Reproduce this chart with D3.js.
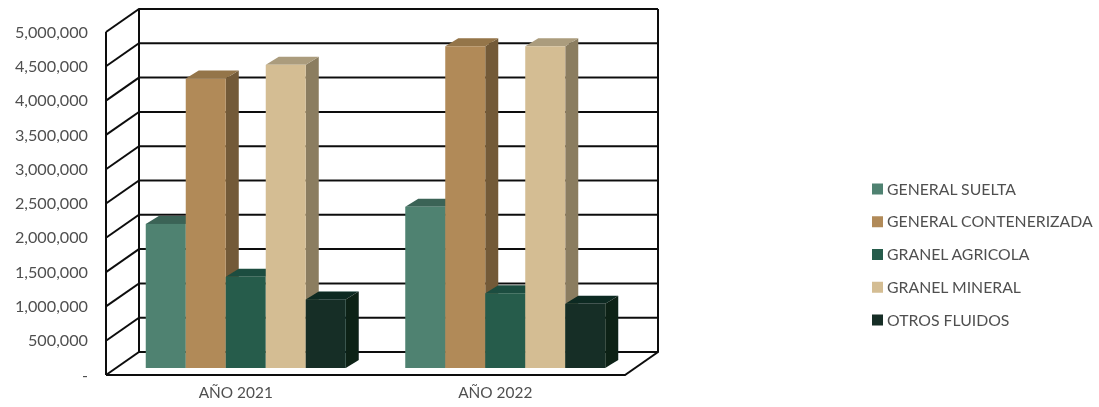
<!DOCTYPE html>
<html>
<head>
<meta charset="utf-8">
<script src="https://cdn.jsdelivr.net/npm/d3@7"></script>
<style>
  html, body { margin: 0; padding: 0; background: #fff; }
  svg { display: block; }
  text { font-family: Lato, "Open Sans", sans-serif; fill: #505050; }
</style>
</head>
<body>
<div id="chart"></div>
<script>
var categories = ["AÑO 2021", "AÑO 2022"];
var seriesNames = ["GENERAL SUELTA", "GENERAL CONTENERIZADA", "GRANEL AGRICOLA", "GRANEL MINERAL", "OTROS FLUIDOS"];
var values2021 = [2100000, 4220000, 1330000, 4420000, 1000000];
var values2022 = [2350000, 4690000, 1090000, 4690000, 935000];
var yTicks = [0, 500000, 1000000, 1500000, 2000000, 2500000, 3000000, 3500000, 4000000, 4500000, 5000000];

var frontColors = ["#4f8271", "#b18a58", "#265c4b", "#d4bd93", "#132f27"];
var topColors = ["#3b6357", "#947448", "#1f4d3f", "#ab9c7d", "#0c2a20"];
var sideColors = ["#3a6153", "#735a37", "#1b4536", "#8b7d61", "#0a2018"];

var width = 1099, height = 407;
var wallDx = 33, wallDy = -23;   // front plane -> back wall
var barDx = 10, barDy = -7;      // front plane -> front of the bars
var depthDx = 13, depthDy = -8;  // bar depth

var svg = d3.select("#chart").append("svg").attr("width", width).attr("height", height);

svg.append("defs").append("filter").attr("id", "soft")
  .append("feGaussianBlur").attr("stdDeviation", 0.6);

var g = svg.append("g").attr("filter", "url(#soft)");

var x0 = d3.scaleBand().domain(categories).range([106, 625]);
var x1 = d3.scaleBand().domain(seriesNames).range([-100, 100]);
var y = d3.scaleLinear().domain([0, 5000000]).range([375, 32]);

var xLeft = x0.range()[0], xRight = x0.range()[1];

// Walls and grid
var grid = g.append("g").attr("fill", "none").attr("stroke", "#111").attr("stroke-width", 2);

yTicks.forEach(function (t) {
  grid.append("path").attr("d", d3.line()([
    [xLeft, y(t)],
    [xLeft + wallDx, y(t) + wallDy],
    [xRight + wallDx, y(t) + wallDy]
  ]));
});
grid.append("path").attr("d", d3.line()([[xLeft, y(0)], [xLeft, y(5000000)]]));
grid.append("path").attr("d", d3.line()([[xLeft + wallDx, y(0) + wallDy], [xLeft + wallDx, y(5000000) + wallDy]]));
grid.append("path").attr("d", d3.line()([[xRight + wallDx, y(5000000) + wallDy], [xRight + wallDx, y(0) + wallDy], [xRight, y(0)], [xLeft, y(0)]]));

// Bars
function drawBars (cat, vals) {
  var cx = x0(cat) + x0.bandwidth() / 2 + barDx;
  seriesNames.forEach(function (s, i) {
    var l = cx + x1(s), r = l + x1.bandwidth();
    var t = y(vals[i]) + barDy, b = y(0) + barDy;
    var bar = g.append("g");
    bar.append("polygon").attr("fill", sideColors[i]).attr("points", [
      [r, t], [r + depthDx, t + depthDy], [r + depthDx, b + depthDy], [r, b]
    ].join(" "));
    bar.append("polygon").attr("fill", topColors[i]).attr("points", [
      [l, t], [l + depthDx, t + depthDy], [r + depthDx, t + depthDy], [r, t]
    ].join(" "));
    bar.append("rect").attr("x", l).attr("y", t).attr("width", r - l).attr("height", b - t).attr("fill", frontColors[i]);
  });
}
drawBars(categories[0], values2021);
drawBars(categories[1], values2022);

// Value axis labels
var yAxis = d3.axisLeft(y).tickValues(yTicks).tickSize(0).tickPadding(18)
  .tickFormat(function (d) { return d === 0 ? "-" : d3.format(",")(d); });
var yG = g.append("g").attr("transform", "translate(" + xLeft + ",0)").call(yAxis);
yG.select(".domain").remove();
yG.selectAll("text").style("font-family", "Lato, sans-serif").style("font-size", "16.2px").style("fill", "#505050");

// Category labels
var xAxis = d3.axisBottom(x0).tickSize(0).tickPadding(12);
var xG = g.append("g").attr("transform", "translate(0," + y(0) + ")").call(xAxis);
xG.select(".domain").remove();
xG.selectAll("text").style("font-family", "Lato, sans-serif").style("font-size", "15.4px").style("fill", "#505050");

// Legend
var legendY = d3.scalePoint().domain(seriesNames).range([189, 320]);
seriesNames.forEach(function (s, i) {
  g.append("rect").attr("x", 872).attr("y", legendY(s) - 5.5).attr("width", 11).attr("height", 11).attr("fill", frontColors[i]);
  g.append("text").attr("x", 887).attr("y", legendY(s)).attr("dy", "0.35em")
    .style("font-size", "15.8px").text(s);
});
</script>
</body>
</html>
